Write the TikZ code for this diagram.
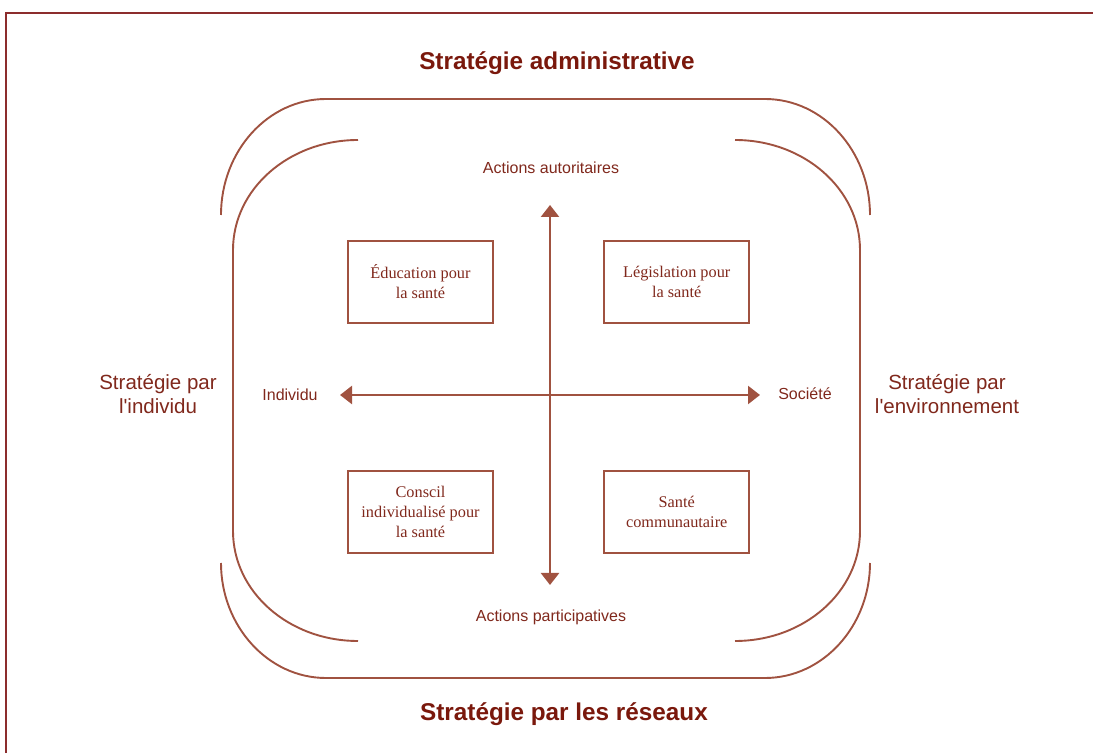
\documentclass[tikz,border=0pt]{standalone}
\usepackage{fontspec}
\setmainfont{Liberation Serif}
\setsansfont{Liberation Sans}
\usetikzlibrary{arrows.meta, positioning}

\definecolor{bordeaux}{RGB}{122,24,12}
\definecolor{brique}{RGB}{160,82,64}
\definecolor{texte}{RGB}{128,40,28}
\definecolor{cadre}{RGB}{140,45,45}

\begin{document}
\begin{tikzpicture}[x=1pt, y=1pt,
    titre/.style={font=\sffamily\bfseries\fontsize{24.3}{28}\selectfont,
        text=bordeaux},
    strat/.style={font=\sffamily\fontsize{20.5}{24}\selectfont,
        text=texte, align=center},
    etiq/.style={font=\sffamily\fontsize{16}{19}\selectfont, text=texte},
    boite/.style={rectangle, draw=brique, line width=2.2pt,
        minimum width=145pt, minimum height=82pt, align=center,
        font=\fontsize{16.3}{20}\selectfont, text=texte},
    courbe/.style={draw=brique, line width=1.9pt},
    fleche/.style={brique, line width=2.4pt,
        {Triangle[length=12pt,width=18pt]}-{Triangle[length=12pt,width=18pt]}},
    ]
    \useasboundingbox (0,0) rectangle (1093,753);

    % cadre de la page
    \draw[cadre, line width=2.5pt] (6,0) -- (6,740) -- (1093,740);

    % titres
    \node[titre] (admin) at (557,690) {Stratégie administrative};
    \node[titre] (reseaux) at (564,39) {Stratégie par les réseaux};
    \node[strat] (parindiv) at (158,359) {Stratégie par\\l\textquotesingle individu};
    \node[strat] (parenv) at (947,359) {Stratégie par\\l\textquotesingle environnement};

    % arcs exterieurs
    \draw[courbe] (221,538) .. controls (221,602) and (268,654) .. (326,654)
        -- (765,654) .. controls (823,654) and (870,602) .. (870,538);
    \draw[courbe] (221,190) .. controls (221,127) and (268,75) .. (326,75)
        -- (765,75) .. controls (823,75) and (870,127) .. (870,190);

    % arcs interieurs
    \draw[courbe] (358,613) .. controls (289,613) and (233,564) .. (233,503)
        -- (233,222) .. controls (233,161) and (289,112) .. (358,112);
    \draw[courbe] (735,613) .. controls (804,613) and (860,564) .. (860,503)
        -- (860,222) .. controls (860,161) and (804,112) .. (735,112);

    % les quatre boites
    \node[boite] (education) at (420.5,471) {Éducation pour\\la santé};
    \node[boite] (legislation) [right=109pt of education]
    {Législation pour\\la santé};
    \node[boite] (conseil) [below=146pt of education]
    {Conscil\\individualisé pour\\la santé};
    \node[boite] (communaute) [below=146pt of legislation]
    {Santé\\communautaire};

    % axes
    \coordinate (haut) at (550,548);
    \coordinate (bas) at (550,168);
    \coordinate (gauche) at (340,358);
    \coordinate (droite) at (760,358);
    \draw[fleche] (bas) -- (haut);
    \draw[fleche] (gauche) -- (droite);

    \node[etiq] (autoritaires) at (551,585) {Actions autoritaires};
    \node[etiq] (participatives) at (551,136) {Actions participatives};
    \node[etiq] (individu) at (290,358) {Individu};
    \node[etiq] (societe) at (805,359) {Société};
\end{tikzpicture}
\end{document}
